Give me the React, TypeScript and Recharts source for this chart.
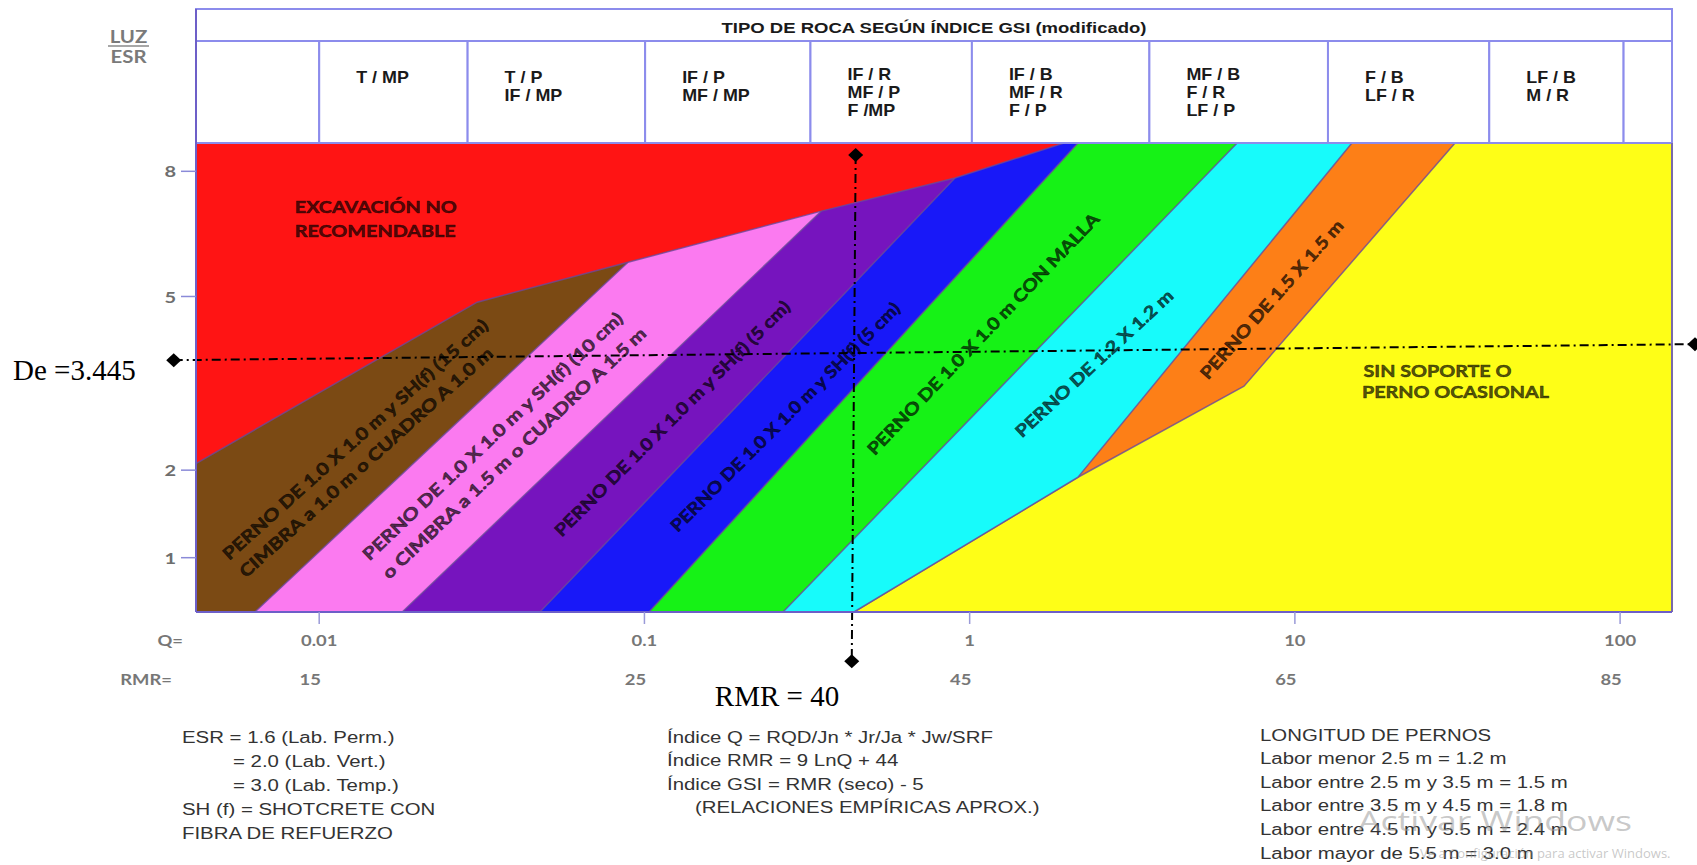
import React from 'react';
import {
  ComposedChart,
  Area,
  XAxis,
  YAxis,
  ReferenceArea,
  ReferenceLine,
  ReferenceDot,
} from 'recharts';

// axis extents: Q on a log scale, LUZ/ESR on a sqrt-like scale as drawn
const Q_MIN = 0.00418;
const Q_MAX = 144.4;
const LUZ_MIN = 0.552;
const LUZ_TOP = 8.774; // top of the coloured zones
const LUZ_HEAD = 11.87; // line under the table title
const LUZ_MAX = 12.935;

const qTicks = [0.01, 0.1, 1, 10, 100];
const qTickLabels = ['0.01', '0.1', '1', '10', '100'];
const rmrTickLabels = ['15', '25', '45', '65', '85'];
const luzTicks = [1, 2, 5, 8];

// lower edge of every zone, [Q, LUZ/ESR]
const redEdge = [[Q_MIN, 2.09], [0.0306, 4.88], [0.089, 5.75], [0.35, 6.97], [0.901, 7.82], [1.95, LUZ_TOP]];
const brownEdge = [[Q_MIN, LUZ_MIN], [0.00634, LUZ_MIN], [0.089, 5.75]];
const pinkEdge = [[Q_MIN, LUZ_MIN], [0.018, LUZ_MIN], [0.35, 6.97]];
const purpleEdge = [[Q_MIN, LUZ_MIN], [0.0477, LUZ_MIN], [0.901, 7.82]];
const blueEdge = [[Q_MIN, LUZ_MIN], [0.1033, LUZ_MIN], [2.153, LUZ_TOP]];
const greenEdge = [[Q_MIN, LUZ_MIN], [0.2667, LUZ_MIN], [6.645, LUZ_TOP]];
const cyanEdge = [[Q_MIN, LUZ_MIN], [0.4409, LUZ_MIN], [2.153, 1.906], [14.98, LUZ_TOP]];
const orangeEdge = [[Q_MIN, LUZ_MIN], [0.4409, LUZ_MIN], [2.153, 1.906], [6.975, 3.282], [31.08, LUZ_TOP]];
const yellowEdge = [[Q_MIN, LUZ_MIN], [Q_MAX, LUZ_MIN]];

// rock type table above the chart
const headerEdges = [Q_MIN, 0.01, 0.0286, 0.1005, 0.324, 1.016, 3.57, 12.64, 39.6, 102.5, Q_MAX];
const headerLabels = [
  [],
  ['T / MP'],
  ['T / P', 'IF / MP'],
  ['IF / P', 'MF / MP'],
  ['IF / R', 'MF / P', 'F /MP'],
  ['IF / B', 'MF / R', 'F / P'],
  ['MF / B', 'F / R', 'LF / P'],
  ['F / B', 'LF / R'],
  ['LF / B', 'M / R'],
  [],
];

// hand drawn reading lines
const deLine = [[0.00357, 3.743], [169.9, 4.042]];
const rmrLine = [[0.4462, 8.441], [0.434, 0.2596]];

const zones = [
  { key: 'yellow', color: '#fefe17', edge: yellowEdge },
  { key: 'orange', color: '#fd7f17', edge: orangeEdge },
  { key: 'cyan', color: '#17fbfb', edge: cyanEdge },
  { key: 'green', color: '#16f216', edge: greenEdge },
  { key: 'blue', color: '#1818f8', edge: blueEdge },
  { key: 'purple', color: '#7614be', edge: purpleEdge },
  { key: 'pink', color: '#fb7af0', edge: pinkEdge },
  { key: 'brown', color: '#7b4a14', edge: brownEdge },
  { key: 'red', color: '#ff1414', edge: redEdge },
];

const rows = zones
  .flatMap((z) => z.edge.map(([q, v]) => ({ q, [z.key]: v })))
  .sort((a, b) => a.q - b.q);

const zoneNotes = [
  { q: 0.00841, luz: 7.078, text: 'EXCAVACIÓN NO', angle: 0, len: 162, anchor: 'start' },
  { q: 0.00841, luz: 6.487, text: 'RECOMENDABLE', angle: 0, len: 161, anchor: 'start' },
  { q: 0.01288, luz: 2.436, text: 'PERNO DE 1.0 X 1.0 m y SH(f) (15 cm)', angle: -42, len: 350 },
  { q: 0.0139, luz: 2.112, text: 'CIMBRA a 1.0 m o CUADRO A 1.0 m', angle: -42, len: 334 },
  { q: 0.03409, luz: 2.483, text: 'PERNO DE 1.0 X 1.0 m y SH(f) (10 cm)', angle: -43.5, len: 351 },
  { q: 0.03969, luz: 2.24, text: 'o CIMBRA a 1.5 m o CUADRO A 1.5 m', angle: -43.5, len: 356 },
  { q: 0.1215, luz: 2.756, text: 'PERNO DE 1.0 X 1.0 m y SH(f) (5 cm)', angle: -45, len: 325 },
  { q: 0.2704, luz: 2.779, text: 'PERNO DE 1.0 X 1.0 m y SH(f) (5 cm)', angle: -45, len: 316 },
  { q: 1.099, luz: 4.244, text: 'PERNO DE 1.0 X 1.0 m CON MALLA', angle: -46.3, len: 327 },
  { q: 2.412, luz: 3.688, text: 'PERNO DE 1.2 X 1.2 m', angle: -42.8, len: 208 },
  { q: 8.472, luz: 4.944, text: 'PERNO DE 1.5 X 1.5 m', angle: -48.5, len: 206 },
  { q: 16.25, luz: 3.562, text: 'SIN SOPORTE O', angle: 0, len: 148, anchor: 'start' },
  { q: 16.08, luz: 3.185, text: 'PERNO OCASIONAL', angle: 0, len: 187, anchor: 'start' },
];

const esrNotes = ['ESR = 1.6 (Lab. Perm.)', '= 2.0 (Lab. Vert.)', '= 3.0 (Lab. Temp.)', 'SH (f) = SHOTCRETE CON', 'FIBRA DE REFUERZO'];
const indexNotes = ['Índice Q = RQD/Jn * Jr/Ja * Jw/SRF', 'Índice RMR = 9 LnQ + 44', 'Índice GSI = RMR (seco) - 5', '(RELACIONES EMPÍRICAS APROX.)'];
const boltNotes = [
  'LONGITUD DE PERNOS',
  'Labor menor 2.5 m = 1.2 m',
  'Labor entre 2.5 m y 3.5 m = 1.5 m',
  'Labor entre 3.5 m y 4.5 m = 1.8 m',
  'Labor entre 4.5 m y 5.5 m = 2.4 m',
  'Labor mayor de 5.5 m = 3.0 m',
];

const SANS = '"Liberation Sans", Arial, sans-serif';
const LATO = 'Lato, "Open Sans", sans-serif';
const SERIF = '"Liberation Serif", "Times New Roman", serif';

const SText = ({ x, y, text, anchor = 'start', size = 16, sx = 1, fill = '#000', weight = 400, family = SANS, opacity = 1, rotate = 0, len, thick = 0 }: any) => (
  <text
    transform={`translate(${x} ${y}) rotate(${rotate}) scale(${sx} 1)`}
    textAnchor={anchor}
    dominantBaseline="central"
    fontSize={size}
    fontFamily={family}
    fontWeight={weight}
    fill={fill}
    fillOpacity={opacity}
    stroke={thick ? fill : 'none'}
    strokeOpacity={opacity}
    strokeWidth={thick}
    textLength={len}
    lengthAdjust={len ? 'spacingAndGlyphs' : undefined}
  >
    {text}
  </text>
);

const Diamond = (p: any) => (
  <polygon
    points={`${p.cx},${p.cy - 7} ${p.cx + 7.5},${p.cy} ${p.cx},${p.cy + 7} ${p.cx - 7.5},${p.cy}`}
    fill="#000"
  />
);

const LuzTick = (p: any) => (
  <SText x={p.x} y={p.y} text={String(p.payload.value)} anchor="end" size={16} sx={1.25} fill="#6e6e6e" weight={700} family={LATO} />
);

const QTick = (p: any) => {
  const i = qTicks.indexOf(p.payload.value);
  return (
    <g>
      <SText x={p.x} y={p.y} text={qTickLabels[i]} anchor="middle" size={16} sx={1.15} fill="#777" weight={700} family={LATO} />
      <SText x={p.x - 9} y={p.y + 39} text={rmrTickLabels[i]} anchor="middle" size={16} sx={1.15} fill="#777" weight={700} family={LATO} />
    </g>
  );
};

const headerContent = (lines: string[]) => (props: any) => {
  const vb = props.viewBox;
  if (!vb) return null;
  const first = lines.length > 2 ? 34 : 37;
  return (
    <g>
      {lines.map((t, i) => (
        <SText key={i} x={vb.x + 37} y={vb.y + first + i * 18} text={t} size={16} sx={1.12} weight={700} fill="#1a1a1a" />
      ))}
    </g>
  );
};

const titleContent = (props: any) => {
  const vb = props.viewBox;
  if (!vb) return null;
  return (
    <SText x={vb.x + vb.width / 2} y={vb.y + vb.height / 2 + 3} text="TIPO DE ROCA SEGÚN ÍNDICE GSI (modificado)" anchor="middle" size={14} weight={700} fill="#1a1a1a" len={425} />
  );
};

const EDGE = '#6a4a9a';
const FRAME = '#6d5fc8';
const GRID = '#8c8cec';

export default function App() {
  return (
    <div style={{ position: 'absolute', left: 0, top: 0, width: 1697, height: 865, background: '#fff', overflow: 'hidden' }}>
      <ComposedChart width={1697} height={865} data={rows} margin={{ top: 9, right: 25, bottom: 193, left: 136 }}>
        <XAxis
          dataKey="q"
          type="number"
          scale="log"
          domain={[Q_MIN, Q_MAX]}
          allowDataOverflow
          ticks={qTicks}
          interval={0}
          height={60}
          tickSize={12}
          tickMargin={16}
          tick={(p: any) => <QTick {...p} />}
          axisLine={{ stroke: FRAME, strokeWidth: 2 }}
          tickLine={{ stroke: '#9a9ad8', strokeWidth: 1.5 }}
        />
        <YAxis
          type="number"
          scale="sqrt"
          domain={[LUZ_MIN, LUZ_MAX]}
          allowDataOverflow
          ticks={luzTicks}
          interval={0}
          width={60}
          tickSize={15}
          tickMargin={5}
          tick={(p: any) => <LuzTick {...p} />}
          axisLine={{ stroke: FRAME, strokeWidth: 2 }}
          tickLine={{ stroke: '#8a8ad8', strokeWidth: 1.5 }}
        />
        {zones.map((z) => (
          <Area
            key={z.key}
            dataKey={z.key}
            type="linear"
            baseValue={LUZ_TOP}
            connectNulls
            fill={z.color}
            fillOpacity={1}
            stroke={z.key === 'yellow' ? 'none' : EDGE}
            strokeOpacity={0.8}
            strokeWidth={1.5}
            dot={false}
            activeDot={false}
            isAnimationActive={false}
          />
        ))}
        <ReferenceLine
          segment={[{ x: Q_MAX, y: LUZ_MIN }, { x: Q_MAX, y: LUZ_TOP }]}
          stroke="#7a6aa8"
          strokeWidth={2}
          ifOverflow="visible"
        />
        <ReferenceArea
          x1={Q_MIN}
          x2={Q_MAX}
          y1={LUZ_HEAD}
          y2={LUZ_MAX}
          fill="#fff"
          fillOpacity={1}
          stroke={GRID}
          strokeWidth={2}
          ifOverflow="visible"
          label={titleContent}
        />
        {headerLabels.map((lines, i) => (
          <ReferenceArea
            key={`h${i}`}
            x1={headerEdges[i]}
            x2={headerEdges[i + 1]}
            y1={LUZ_TOP}
            y2={LUZ_HEAD}
            fill="#fff"
            fillOpacity={1}
            stroke={GRID}
            strokeWidth={2}
            ifOverflow="visible"
            label={headerContent(lines)}
          />
        ))}
        {zoneNotes.map((n, i) => (
          <ReferenceDot
            key={`n${i}`}
            x={n.q}
            y={n.luz}
            r={0}
            ifOverflow="visible"
            shape={(p: any) => (
              <SText
                x={p.cx}
                y={p.cy}
                text={n.text}
                anchor={n.anchor || 'middle'}
                rotate={n.angle}
                len={n.len}
                size={17}
                weight={700}
                family={LATO}
                fill="#000"
                opacity={0.66}
                thick={0.6}
              />
            )}
          />
        ))}
        <ReferenceLine
          segment={[{ x: deLine[0][0], y: deLine[0][1] }, { x: deLine[1][0], y: deLine[1][1] }]}
          stroke="#000"
          strokeWidth={2}
          strokeDasharray="9 4 2 4"
          ifOverflow="visible"
        />
        <ReferenceLine
          segment={[{ x: rmrLine[0][0], y: rmrLine[0][1] }, { x: rmrLine[1][0], y: rmrLine[1][1] }]}
          stroke="#000"
          strokeWidth={2}
          strokeDasharray="9 4 2 4"
          ifOverflow="visible"
        />
        {[...deLine, ...rmrLine].map(([q, v], i) => (
          <ReferenceDot key={`d${i}`} x={q} y={v} r={0} ifOverflow="visible" shape={(p: any) => <Diamond {...p} />} />
        ))}
      </ComposedChart>
      <svg width={1697} height={865} style={{ position: 'absolute', left: 0, top: 0, pointerEvents: 'none' }}>
        <SText x={128.5} y={36} text="LUZ" anchor="middle" size={17} sx={1.2} weight={700} family={LATO} fill="#7a7a7a" />
        <line x1={108} x2={149} y1={46} y2={46} stroke="#8a8a8a" strokeWidth={1.5} />
        <SText x={128.5} y={56} text="ESR" anchor="middle" size={17} sx={1.2} weight={700} family={LATO} fill="#7a7a7a" />
        <SText x={183} y={640} text="Q=" anchor="end" size={16} sx={1.15} weight={700} family={LATO} fill="#777" />
        <SText x={172} y={679} text="RMR=" anchor="end" size={16} sx={1.15} weight={700} family={LATO} fill="#777" />
        <SText x={13} y={370} text="De =3.445" size={29} family={SERIF} fill="#000" />
        <SText x={777} y={696} text="RMR = 40" anchor="middle" size={29} family={SERIF} fill="#000" />
        {esrNotes.map((t, i) => (
          <SText key={`e${i}`} x={i === 1 || i === 2 ? 233 : 182} y={737 + i * 24} text={t} size={16} sx={1.275} fill="#333" />
        ))}
        {indexNotes.map((t, i) => (
          <SText key={`i${i}`} x={i === 3 ? 695 : 667} y={737 + i * 23.5} text={t} size={16} sx={1.275} fill="#333" />
        ))}
        {boltNotes.map((t, i) => (
          <SText key={`b${i}`} x={1260} y={735 + i * 23.6} text={t} size={16} sx={1.275} fill="#333" />
        ))}
        <SText x={1358} y={820} text="Activar Windows" size={27} len={274} family='"Open Sans", sans-serif' fill="#9a9a9a" opacity={0.55} />
        <SText x={1420} y={853} text="Ve a Configuración para activar Windows." size={13} family='"Open Sans", sans-serif' fill="#9a9a9a" opacity={0.55} />
      </svg>
    </div>
  );
}
